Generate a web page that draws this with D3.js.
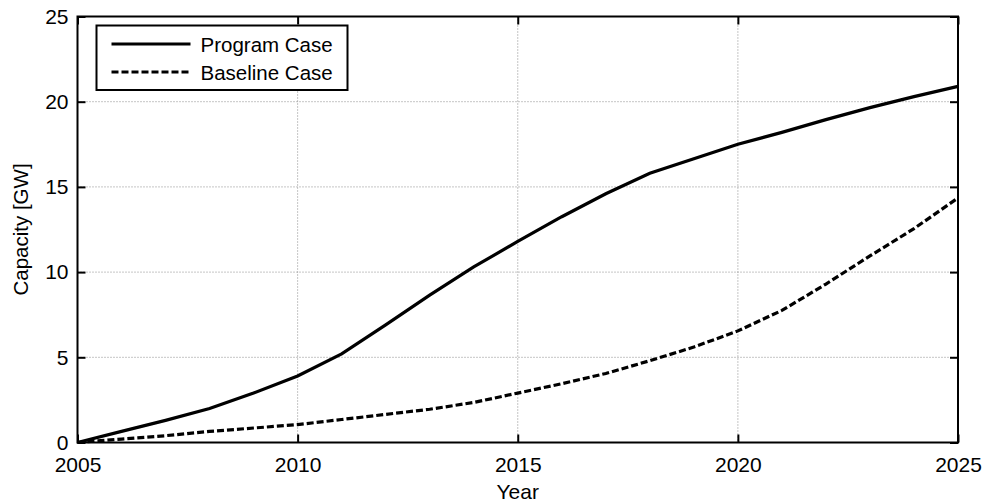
<!DOCTYPE html>
<html>
<head>
<meta charset="utf-8">
<script src="https://cdn.jsdelivr.net/npm/d3@7"></script>
<style>
  body { margin: 0; background: #fff; }
  svg { display: block; font-family: 'Liberation Sans', Arial, sans-serif; }
</style>
</head>
<body>
<svg width="984" height="504"></svg>
<script>
// Chart data
const years = [2005, 2006, 2007, 2008, 2009, 2010, 2011, 2012, 2013, 2014, 2015,
  2016, 2017, 2018, 2019, 2020, 2021, 2022, 2023, 2024, 2025];
const programCase = [0, 0.65, 1.3, 2.0, 2.9, 3.9, 5.2, 6.9, 8.65, 10.3, 11.8,
  13.25, 14.6, 15.8, 16.65, 17.5, 18.2, 18.95, 19.65, 20.3, 20.9];
const baselineCase = [0, 0.2, 0.4, 0.65, 0.85, 1.05, 1.35, 1.65, 1.95, 2.35, 2.9,
  3.45, 4.05, 4.8, 5.6, 6.55, 7.75, 9.3, 10.95, 12.55, 14.35];
const xTicks = [2005, 2010, 2015, 2020, 2025];
const yTicks = [0, 5, 10, 15, 20, 25];
const seriesNames = ['Program Case', 'Baseline Case'];

const svg = d3.select('svg');
const margin = {
  top: 16.5, right: 26, bottom: 61.5, left: 77.5,
};
const width = +svg.attr('width');
const height = +svg.attr('height');
const innerWidth = width - margin.left - margin.right;
const innerHeight = height - margin.top - margin.bottom;

const x = d3.scaleLinear().domain([2005, 2025]).range([0, innerWidth]);
const y = d3.scaleLinear().domain([0, 25]).range([innerHeight, 0]);

const g = svg.append('g')
  .attr('transform', `translate(${margin.left},${margin.top})`);

// Dotted grid
g.append('g').selectAll('line')
  .data(xTicks.slice(1, -1))
  .join('line')
  .attr('x1', (d) => x(d)).attr('x2', (d) => x(d))
  .attr('y1', 0).attr('y2', innerHeight)
  .attr('stroke', '#8a8a8a').attr('stroke-width', 1)
  .attr('stroke-dasharray', '1,2');

g.append('g').selectAll('line')
  .data(yTicks.slice(1, -1))
  .join('line')
  .attr('x1', 0).attr('x2', innerWidth)
  .attr('y1', (d) => y(d)).attr('y2', (d) => y(d))
  .attr('stroke', '#8a8a8a').attr('stroke-width', 1)
  .attr('stroke-dasharray', '1,2');

// Axes with inward ticks on all sides
const tickLen = 8;
const xAxis = g.append('g')
  .attr('transform', `translate(0,${innerHeight})`)
  .call(d3.axisBottom(x).tickValues(xTicks).tickFormat(d3.format('d'))
    .tickSizeInner(-tickLen).tickSizeOuter(0).tickPadding(14.5));
g.append('g')
  .call(d3.axisTop(x).tickValues(xTicks).tickFormat('')
    .tickSizeInner(-tickLen).tickSizeOuter(0));
const yAxis = g.append('g')
  .call(d3.axisLeft(y).tickValues(yTicks)
    .tickSizeInner(-tickLen).tickSizeOuter(0).tickPadding(9));
g.append('g')
  .attr('transform', `translate(${innerWidth},0)`)
  .call(d3.axisRight(y).tickValues(yTicks).tickFormat('')
    .tickSizeInner(-tickLen).tickSizeOuter(0));

g.selectAll('.domain').remove();
g.selectAll('.tick line').attr('stroke', '#000').attr('stroke-width', 2);
[xAxis, yAxis].forEach((a) => a.selectAll('text')
  .attr('fill', '#000')
  .attr('font-size', '21px'));
g.selectAll('g').attr('font-size', null).attr('font-family', null);

// Lines
const line = d3.line()
  .x((d, i) => x(years[i]))
  .y((d) => y(d));

g.append('path')
  .datum(programCase)
  .attr('fill', 'none')
  .attr('stroke', '#000')
  .attr('stroke-width', 3.2)
  .attr('d', line);

g.append('path')
  .datum(baselineCase)
  .attr('fill', 'none')
  .attr('stroke', '#000')
  .attr('stroke-width', 3.2)
  .attr('stroke-dasharray', '7,3')
  .attr('d', line);

// Axes box
g.append('rect')
  .attr('width', innerWidth)
  .attr('height', innerHeight)
  .attr('fill', 'none')
  .attr('stroke', '#000')
  .attr('stroke-width', 2);

// Legend
const legend = g.append('g').attr('transform', 'translate(19,9)');
legend.append('rect')
  .attr('width', 251)
  .attr('height', 64.5)
  .attr('fill', '#fff')
  .attr('stroke', '#000')
  .attr('stroke-width', 2);
seriesNames.forEach((name, i) => {
  const ly = 18.5 + i * 28;
  legend.append('line')
    .attr('x1', 15).attr('x2', 94)
    .attr('y1', ly).attr('y2', ly)
    .attr('stroke', '#000')
    .attr('stroke-width', 3.2)
    .attr('stroke-dasharray', i === 0 ? null : '7,3');
  legend.append('text')
    .attr('x', 104)
    .attr('y', ly + 7.5)
    .attr('font-size', '20.5px')
    .text(name);
});

// Axis labels
svg.append('text')
  .attr('x', margin.left + innerWidth / 2)
  .attr('y', 499)
  .attr('text-anchor', 'middle')
  .attr('font-size', '21px')
  .text('Year');

svg.append('text')
  .attr('transform', `translate(28,${margin.top + innerHeight / 2}) rotate(-90)`)
  .attr('text-anchor', 'middle')
  .attr('font-size', '20.5px')
  .text('Capacity [GW]');
</script>
</body>
</html>
